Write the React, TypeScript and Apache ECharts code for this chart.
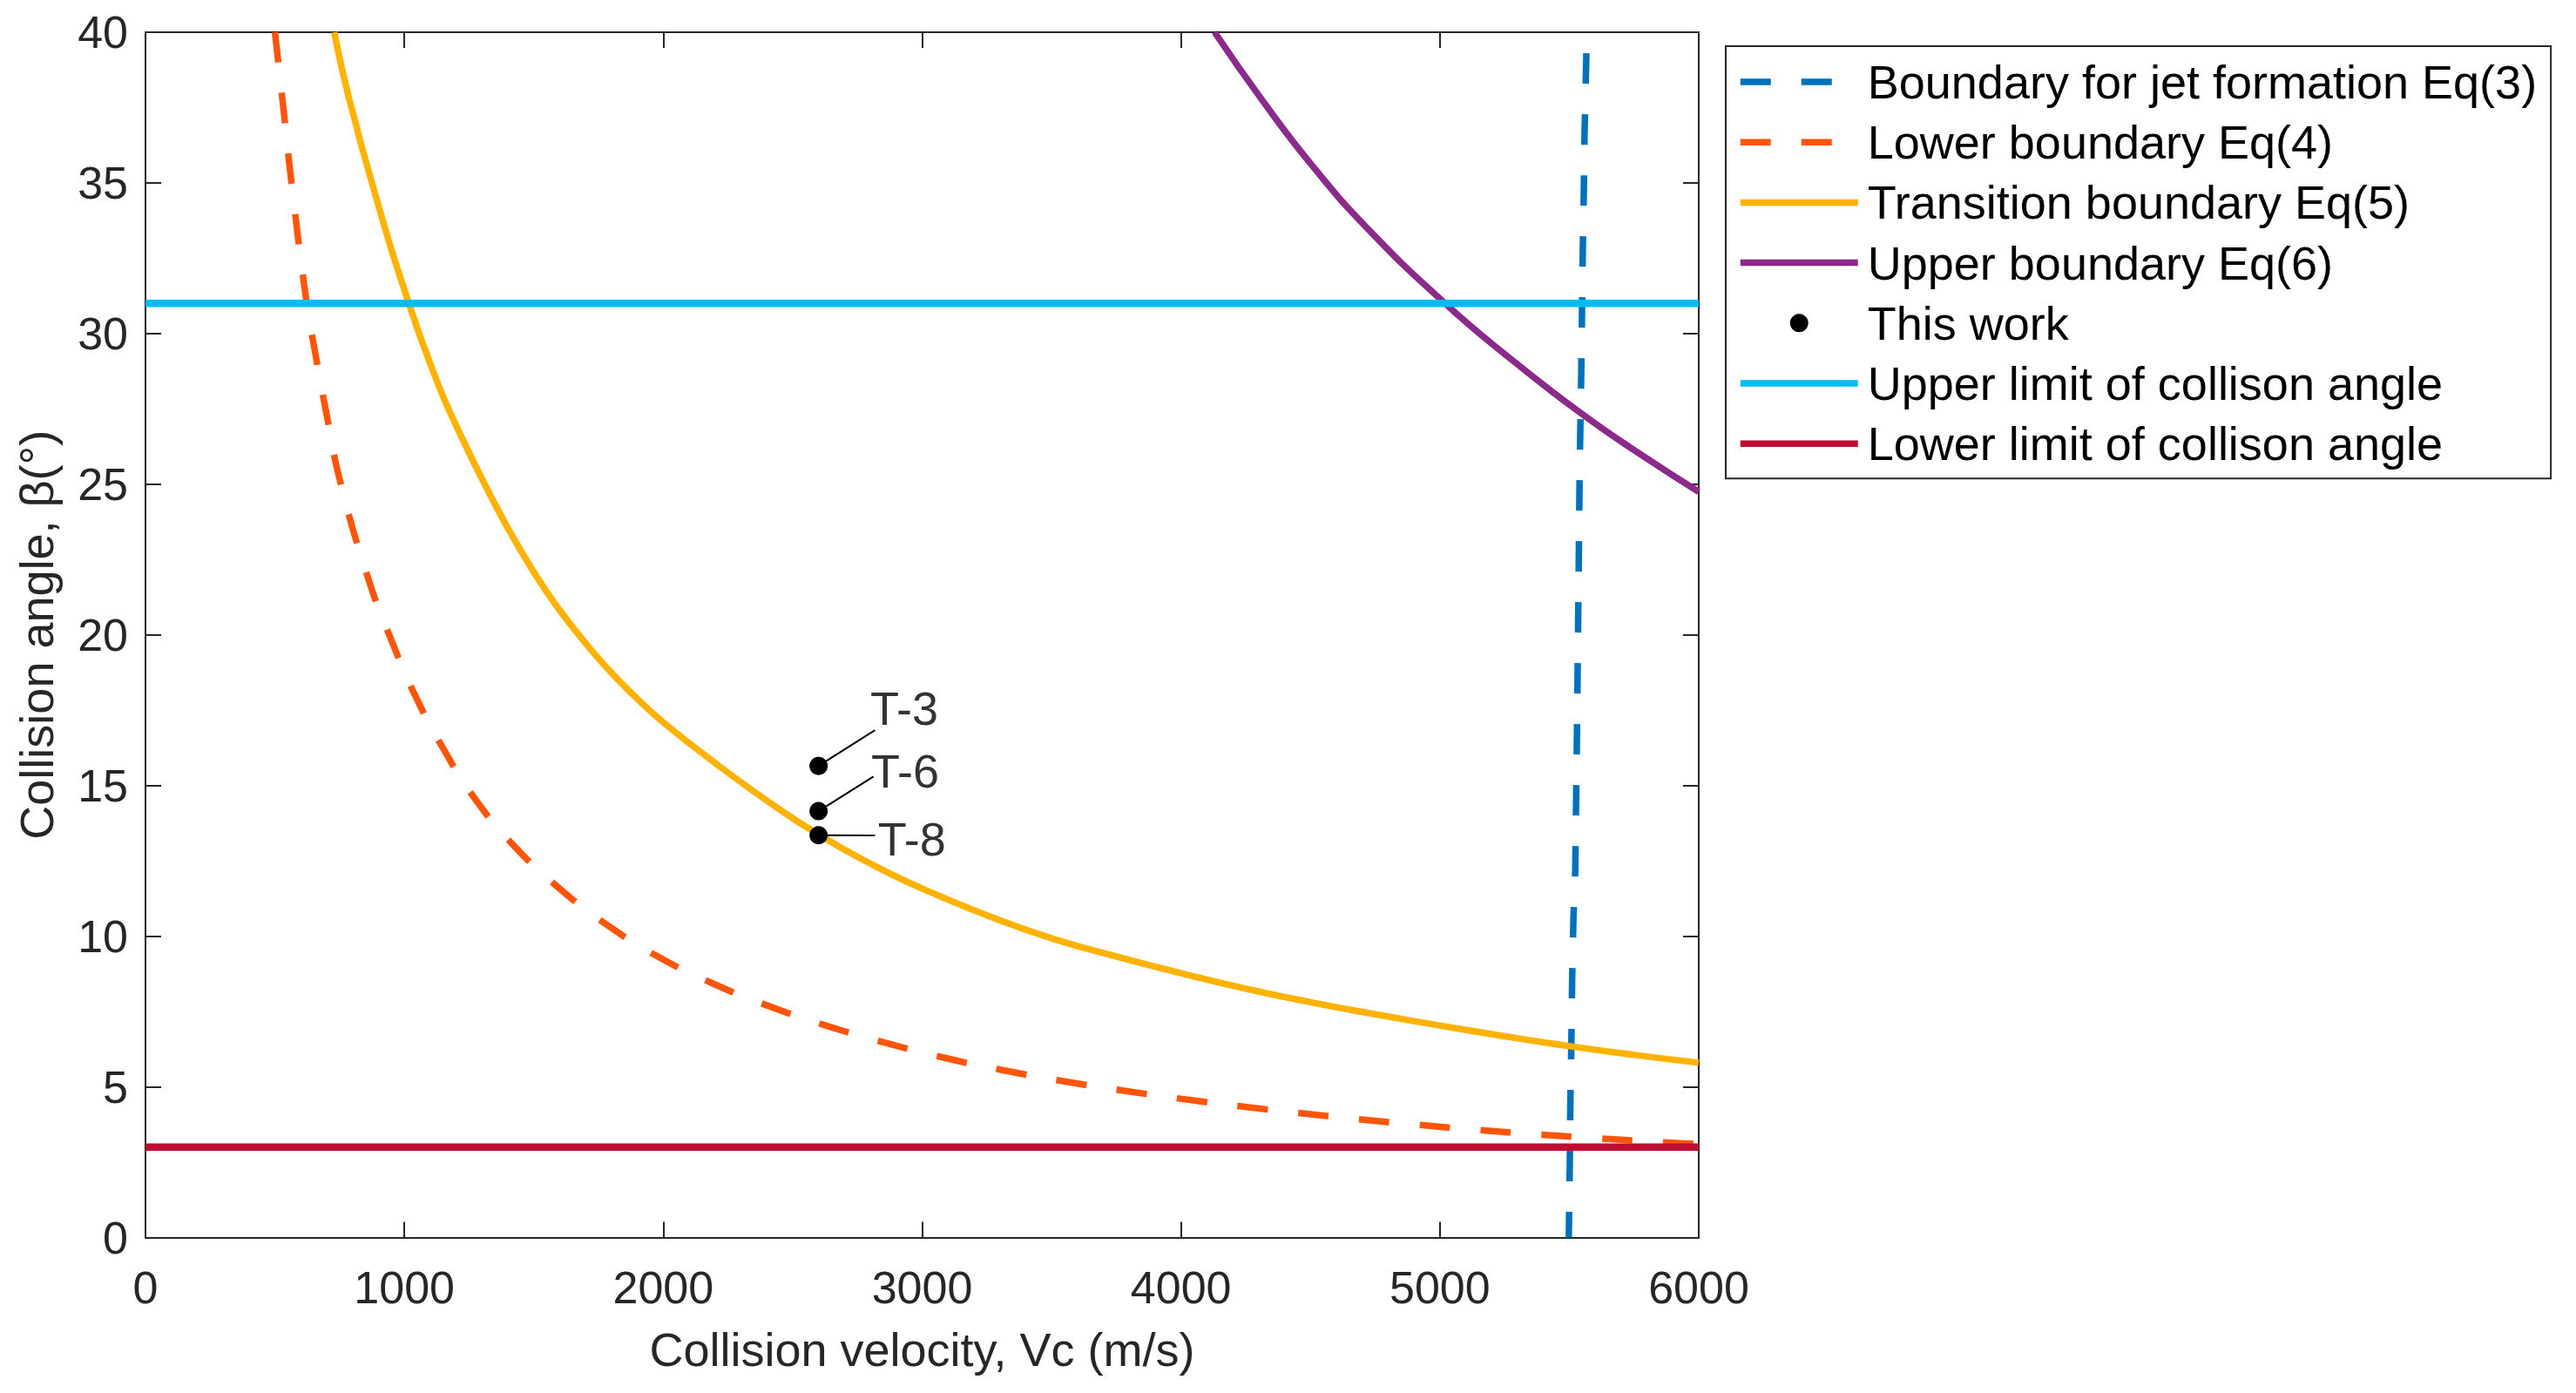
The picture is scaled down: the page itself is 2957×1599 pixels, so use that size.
import React, { useEffect, useRef } from "react";
import * as echarts from "echarts";

// ---- data ----
const xTicks = { min: 0, max: 6000, interval: 1000 };
const yTicks = { min: 0, max: 40, interval: 5 };

const seriesNames = [
  "Boundary for jet formation Eq(3)",
  "Lower boundary Eq(4)",
  "Transition boundary Eq(5)",
  "Upper boundary Eq(6)",
  "This work",
  "Upper limit of collison angle",
  "Lower limit of collison angle",
];

// [Vc, beta]
const jetBoundary = [
  [5566, 39.3], [5559, 36.7], [5556, 34.7], [5552, 32.7], [5546, 28.6],
  [5540, 25.5], [5536, 22], [5530, 17], [5523, 12.2], [5516, 10.6],
  [5511, 8.6], [5508, 6.5], [5504, 4.5], [5502, 2.5], [5498, 0],
];

const lowerBoundary = [
  [500, 40], [535, 37.3], [564, 35], [623, 31], [657, 29.3], [700, 27.3],
  [752, 25.1], [865, 21.75], [951, 19.8], [1041, 18.0], [1152, 16.2],
  [1278, 14.5], [1429, 12.95], [1604, 11.55], [1787, 10.35], [1984, 9.3],
  [2194, 8.42], [2408, 7.68], [2630, 7.03], [2860, 6.46], [3084, 5.97],
  [3314, 5.55], [3544, 5.19], [3774, 4.88], [4003, 4.6], [4233, 4.35],
  [4469, 4.12], [4680, 3.93], [4915, 3.74], [5146, 3.57], [5378, 3.42],
  [5611, 3.29], [5845, 3.17], [6000, 3.1],
];

const transitionBoundary = [
  [729, 40], [785, 37.85], [898, 34.3], [1015, 31.06], [1111, 28.75],
  [1200, 26.95], [1346, 24.4], [1436, 23.0], [1548, 21.45], [1660, 20.15],
  [1772, 19.0], [1885, 18.0], [1997, 17.12], [2200, 15.75], [2400, 14.5],
  [2600, 13.37], [2800, 12.41], [3005, 11.56], [3278, 10.6], [3514, 9.89],
  [3750, 9.33], [4001, 8.77], [4250, 8.26], [4500, 7.81], [4750, 7.41],
  [5003, 7.03], [5250, 6.68], [5501, 6.35], [5750, 6.06], [6000, 5.8],
];

const upperBoundary = [
  [4130, 40], [4316, 37.72], [4514, 35.5], [4728, 33.42], [5020, 31.0],
  [5246, 29.35], [5538, 27.4], [5777, 25.98], [6000, 24.75],
];

const thisWork = [
  [2600, 15.65], [2600, 14.15], [2600, 13.35],
];

const upperLimit = [[0, 31], [6000, 31]];
const lowerLimit = [[0, 3], [6000, 3]];

const sampleLabels = ["T-3", "T-6", "T-8"];
const labelAnchors = [[2800, 17.57], [2803, 15.49], [2829, 13.23]];
const leaderEnds = [[2818, 16.84], [2812, 15.3], [2818, 13.34]];

// ---- styles ----
const FONT = "'Liberation Sans', Arial, Helvetica, sans-serif";
const AXIS_COLOR = "#262626";
const colors = {
  jet: "#0072BD",
  lower: "#FF550A",
  transition: "#FFB200",
  upper: "#8C2A8C",
  dots: "#000000",
  upperLimit: "#00BDF0",
  lowerLimit: "#BE0D30",
};
const DASH = [35, 35];
const CURVE_W = 7.5;
const LIMIT_W = 8.5;
const SMOOTH = 0.5;

function axisCommon(showLabels: boolean) {
  return {
    type: "value" as const,
    axisLine: { show: true, onZero: false, lineStyle: { color: AXIS_COLOR, width: 2 } },
    axisTick: { show: true, inside: true, length: 18, lineStyle: { color: AXIS_COLOR, width: 2 } },
    splitLine: { show: false },
    axisLabel: {
      show: showLabels,
      color: AXIS_COLOR,
      fontSize: 52,
      fontFamily: FONT,
      formatter: (v: number) => String(v),
    },
  };
}

export default function App() {
  const ref = useRef<HTMLDivElement>(null);

  useEffect(() => {
    if (!ref.current) return;
    const chart = echarts.init(ref.current, null, { renderer: "svg" });

    const lineBase = {
      type: "line" as const,
      showSymbol: false,
      symbol: "none",
      silent: true,
      xAxisIndex: 0,
      yAxisIndex: 0,
    };

    const leaderSeries = sampleLabels.map((lab, i) => ({
      ...lineBase,
      name: "leader-" + lab,
      data: [thisWork[i], leaderEnds[i]],
      lineStyle: { color: "#000", width: 2 },
      z: 3,
    }));

    const legendLine: Record<string, any> = {
      [seriesNames[0]]: { color: colors.jet, width: CURVE_W, type: DASH },
      [seriesNames[1]]: { color: colors.lower, width: CURVE_W, type: DASH },
      [seriesNames[2]]: { color: colors.transition, width: CURVE_W, type: "solid" },
      [seriesNames[3]]: { color: colors.upper, width: CURVE_W, type: "solid" },
      [seriesNames[5]]: { color: colors.upperLimit, width: CURVE_W, type: "solid" },
      [seriesNames[6]]: { color: colors.lowerLimit, width: CURVE_W, type: "solid" },
    };

    const option: any = {
      animation: false,
      backgroundColor: "#ffffff",
      textStyle: { fontFamily: FONT },
      grid: { left: 167, right: 1007, top: 37, bottom: 178.5, containLabel: false },
      xAxis: [
        {
          ...axisCommon(true),
          ...xTicks,
          position: "bottom",
          axisLabel: { ...axisCommon(true).axisLabel, margin: 31 },
          name: "Collision velocity, Vc (m/s)",
          nameLocation: "middle",
          nameGap: 101,
          nameTextStyle: { color: AXIS_COLOR, fontSize: 54, fontFamily: FONT },
        },
        {
          ...axisCommon(false),
          ...xTicks,
          position: "top",
        },
      ],
      yAxis: [
        {
          ...axisCommon(true),
          ...yTicks,
          position: "left",
          axisLabel: { ...axisCommon(true).axisLabel, margin: 20 },
          name: "Collision angle, β(°)",
          nameLocation: "middle",
          nameGap: 98,
          nameTextStyle: { color: AXIS_COLOR, fontSize: 54, fontFamily: FONT },
        },
        {
          ...axisCommon(false),
          ...yTicks,
          position: "right",
        },
      ],
      legend: {
        show: true,
        orient: "vertical",
        left: 1981,
        top: 53,
        padding: [11, 16, 10, 13],
        itemWidth: 135,
        itemHeight: 21,
        itemGap: 9.2,
        borderColor: AXIS_COLOR,
        borderWidth: 2,
        backgroundColor: "#ffffff",
        textStyle: {
          color: "#000",
          fontSize: 54,
          fontFamily: FONT,
          lineHeight: 60,
          padding: [0, 0, 0, 6],
        },
        data: seriesNames.map((n) =>
          n === "This work"
            ? { name: n, icon: "circle", itemStyle: { color: "#000" } }
            : { name: n, itemStyle: { opacity: 0 }, lineStyle: legendLine[n] }
        ),
      },
      series: [
        {
          ...lineBase,
          name: seriesNames[0],
          data: jetBoundary,
          lineStyle: { color: colors.jet, width: CURVE_W, type: DASH },
          itemStyle: { color: colors.jet },
          z: 2,
        },
        {
          ...lineBase,
          name: seriesNames[1],
          data: lowerBoundary,
          smooth: SMOOTH,
          lineStyle: { color: colors.lower, width: CURVE_W, type: DASH },
          itemStyle: { color: colors.lower },
          z: 2,
        },
        {
          ...lineBase,
          name: seriesNames[2],
          data: transitionBoundary,
          smooth: SMOOTH,
          lineStyle: { color: colors.transition, width: CURVE_W },
          itemStyle: { color: colors.transition },
          z: 2,
        },
        {
          ...lineBase,
          name: seriesNames[3],
          data: upperBoundary,
          smooth: SMOOTH,
          lineStyle: { color: colors.upper, width: CURVE_W },
          itemStyle: { color: colors.upper },
          z: 2,
        },
        ...leaderSeries,
        {
          type: "scatter",
          name: seriesNames[4],
          data: thisWork,
          symbol: "circle",
          symbolSize: 21,
          itemStyle: { color: colors.dots, opacity: 1 },
          silent: true,
          z: 4,
        },
        {
          ...lineBase,
          name: seriesNames[5],
          data: upperLimit,
          lineStyle: { color: colors.upperLimit, width: LIMIT_W },
          itemStyle: { color: colors.upperLimit },
          z: 2,
        },
        {
          ...lineBase,
          name: seriesNames[6],
          data: lowerLimit,
          lineStyle: { color: colors.lowerLimit, width: LIMIT_W },
          itemStyle: { color: colors.lowerLimit },
          z: 2,
        },
        {
          type: "scatter",
          name: "sample-labels",
          data: labelAnchors.map((p, i) => ({ value: p, name: sampleLabels[i] })),
          symbolSize: 0,
          silent: true,
          z: 5,
          label: {
            show: true,
            position: "right",
            distance: 0,
            formatter: (p: any) => p.name,
            color: "#000",
            fontSize: 54,
            fontFamily: FONT,
          },
        },
      ],
    };

    chart.setOption(option);
    return () => {
      chart.dispose();
    };
  }, []);

  return (
    <div
      ref={ref}
      style={{ position: "fixed", left: 0, top: 0, width: 2957, height: 1599, background: "#fff" }}
    />
  );
}
